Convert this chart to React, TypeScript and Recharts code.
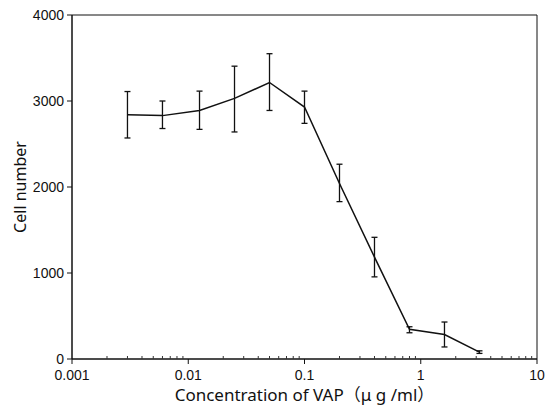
import React from 'react';
import { LineChart, Line, XAxis, YAxis, ErrorBar, ReferenceArea } from 'recharts';

const conc = [0.003, 0.006, 0.0125, 0.025, 0.05, 0.1, 0.2, 0.4, 0.8, 1.6, 3.2];
const cells = [2840, 2830, 2890, 3030, 3215, 2930, 2040, 1185, 345, 285, 80];
const lowerBound = [2570, 2680, 2670, 2640, 2890, 2740, 1830, 955, 305, 140, 65];
const upperBound = [3110, 3000, 3115, 3405, 3550, 3115, 2265, 1415, 375, 430, 95];

const majorXTicks = [0.001, 0.01, 0.1, 1, 10];
const minorXTicks = [
  0.002, 0.003, 0.004, 0.005, 0.006, 0.007, 0.008, 0.009,
  0.02, 0.03, 0.04, 0.05, 0.06, 0.07, 0.08, 0.09,
  0.2, 0.3, 0.4, 0.5, 0.6, 0.7, 0.8, 0.9,
  2, 3, 4, 5, 6, 7, 8, 9,
];
const yTicks = [0, 1000, 2000, 3000, 4000];

const xTitle = 'Concentration of VAP（μ g /ml）';
const yTitle = 'Cell number';

const data = conc.map((x, i) => ({
  x,
  y: cells[i],
  err: [cells[i] - lowerBound[i], upperBound[i] - cells[i]],
}));

const allXTicks = [...majorXTicks, ...minorXTicks].sort((a, b) => a - b);

const TICK_FONT = '"Liberation Sans", Arial, sans-serif';
const TICK_SIZE = 5;
const TICK_MARGIN = 5;

const XTick = (props: any) => {
  const { x, y, payload } = props;
  const v = payload.value;
  const axisY = y - TICK_SIZE - TICK_MARGIN;
  const isMajor = majorXTicks.includes(v);
  if (isMajor) {
    return (
      <g>
        <line x1={x} y1={axisY} x2={x} y2={axisY + TICK_SIZE} stroke="#111" strokeWidth={1} />
        <text x={x} y={y + 11} textAnchor="middle" fill="#111" fontSize={14} fontFamily={TICK_FONT}>
          {String(v)}
        </text>
      </g>
    );
  }
  return <line x1={x} y1={axisY} x2={x} y2={axisY - 3} stroke="#333" strokeWidth={1} />;
};

export default function App() {
  return (
    <div style={{ position: 'absolute', left: 0, top: 0 }}>
      <LineChart
        width={545}
        height={408}
        data={data}
        margin={{ top: 15, right: 8, bottom: 0, left: 0 }}
        style={{ fontFamily: '"Noto Sans", "Noto Sans CJK JP", sans-serif', background: '#fff' }}
      >
        <XAxis
          dataKey="x"
          type="number"
          scale="log"
          domain={[0.001, 10]}
          ticks={allXTicks}
          interval={0}
          allowDataOverflow
          height={49}
          tickSize={TICK_SIZE}
          tickMargin={TICK_MARGIN}
          tickLine={false}
          axisLine={{ stroke: '#111', strokeWidth: 1 }}
          tick={<XTick />}
          label={{
            value: xTitle,
            position: 'insideBottom',
            offset: 7,
            fill: '#111',
            fontSize: 17,
            style: { fontFamily: '"Noto Sans", "Noto Sans CJK JP", sans-serif' },
          }}
        />
        <YAxis
          type="number"
          domain={[0, 4000]}
          ticks={yTicks}
          interval={0}
          width={72}
          tickSize={5}
          tickMargin={3}
          axisLine={{ stroke: '#111', strokeWidth: 1 }}
          tickLine={{ stroke: '#111', strokeWidth: 1 }}
          tick={{ fill: '#111', fontSize: 14, fontFamily: TICK_FONT }}
          label={{
            value: yTitle,
            angle: -90,
            position: 'insideLeft',
            offset: 20,
            fill: '#111',
            fontSize: 16,
            style: { textAnchor: 'middle' },
          }}
        />
        <ReferenceArea
          x1={0.001}
          x2={10}
          y1={0}
          y2={4000}
          fill="none"
          fillOpacity={0}
          stroke="#111"
          strokeWidth={1}
          ifOverflow="visible"
        />
        <Line
          dataKey="y"
          type="linear"
          stroke="#111"
          strokeWidth={1.5}
          dot={false}
          activeDot={false}
          isAnimationActive={false}
        >
          <ErrorBar dataKey="err" direction="y" width={3} stroke="#111" strokeWidth={1.3} isAnimationActive={false} />
        </Line>
      </LineChart>
    </div>
  );
}
